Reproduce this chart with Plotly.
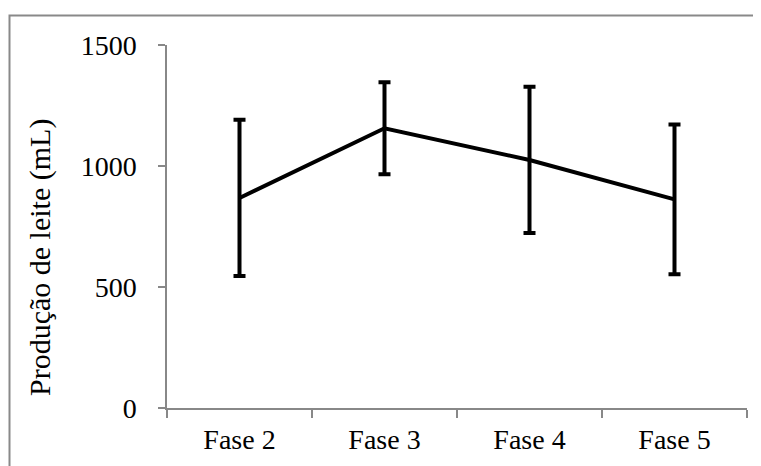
import plotly.graph_objects as go

categories = ["Fase 2", "Fase 3", "Fase 4", "Fase 5"]
means = [868, 1156, 1025, 862]
errors = [323, 190, 302, 309]
y_ticks = [0, 500, 1000, 1500]

# page body has an 8px margin, so the figure is laid out in page-8 coordinates
OFF = 8
W, H = 761 - OFF, 466 - OFF
L, R, T, B = 167 - OFF, 14, 45 - OFF, 58
pw, ph = W - L - R, H - T - B

def px(x):
    return (x - OFF - L) / pw

def py(y):
    return (H - B - (y - OFF)) / ph

fig = go.Figure()
fig.add_trace(go.Scatter(
    x=categories, y=means, mode="lines",
    line=dict(color="black", width=4),
    error_y=dict(type="data", array=errors, visible=True,
                 color="black", thickness=4, width=6),
    showlegend=False, hoverinfo="skip",
))

font_family = "Liberation Serif, Times New Roman, serif"
axis_color = "#888888"

fig.update_layout(
    width=W, height=H,
    margin=dict(l=L, r=R, t=T, b=B),
    paper_bgcolor="white", plot_bgcolor="white",
    font=dict(family=font_family, size=28, color="black"),
    xaxis=dict(
        showline=True, linecolor=axis_color, linewidth=1.5,
        ticks="outside", tickson="boundaries", ticklen=8,
        tickcolor=axis_color, tickwidth=1.5,
        showgrid=False, zeroline=False,
        range=[-0.5, 3.5],
        ticklabelstandoff=6,
        tickfont=dict(family=font_family, size=28, color="black"),
    ),
    yaxis=dict(
        range=[0, 1500], tickvals=y_ticks,
        showline=True, linecolor=axis_color, linewidth=1.5,
        ticks="outside", ticklen=7, tickcolor=axis_color, tickwidth=1.5,
        showgrid=False, zeroline=False,
        ticklabelstandoff=16,
        tickfont=dict(family=font_family, size=28, color="black"),
    ),
    annotations=[dict(
        text="Produção de leite (mL)", textangle=-90,
        xref="paper", yref="paper", x=px(40), y=py(258),
        xanchor="center", yanchor="middle", showarrow=False,
        font=dict(family=font_family, size=30, color="black"),
    )],
    shapes=[dict(
        type="rect", xref="paper", yref="paper",
        x0=px(9.5), x1=px(790), y0=py(15.5), y1=py(500),
        line=dict(color="#898989", width=2), layer="below",
    )],
)

fig.write_html("out.html")
